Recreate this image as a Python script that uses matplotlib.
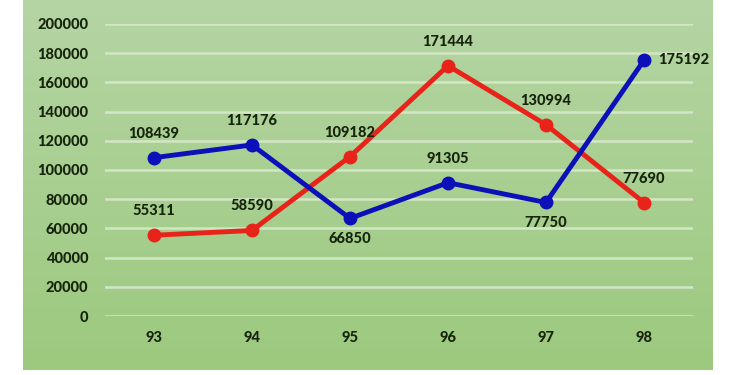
import matplotlib.pyplot as plt
import numpy as np

plt.rcParams['font.family'] = ['Lato', 'DejaVu Sans']

years = ['93', '94', '95', '96', '97', '98']
blue_vals = [108439, 117176, 66850, 91305, 77750, 175192]
red_vals = [55311, 58590, 109182, 171444, 130994, 77690]
# where each label sits relative to its point
blue_pos = ['up', 'up', 'down', 'up', 'down', 'right']
red_pos = ['up', 'up', 'up', 'up', 'up', 'up']

W, H = 745, 375
fig = plt.figure(figsize=(W/100, H/100), dpi=100)
fig.patch.set_facecolor('white')

# green gradient panel
bg = fig.add_axes([23/W, 5/H, 690/W, 370/H])
grad = np.linspace(0, 1, 256).reshape(-1, 1)
top = np.array([181, 213, 164]) / 255
bot = np.array([156, 201, 126]) / 255
img = top + (bot - top) * grad[:, :, None]
bg.imshow(img, aspect='auto', extent=[0, 1, 0, 1])
bg.set_axis_off()

ax = fig.add_axes([105/W, 59/H, 588/W, 292/H])
ax.patch.set_alpha(0)
x = np.arange(len(years))
ax.set_xlim(-0.5, len(years) - 0.5)
ax.set_ylim(0, 200000)
ax.set_yticks(np.arange(0, 200001, 20000))
for yv in np.arange(0, 200001, 20000):
    ax.axhline(yv, color='#d3e6c6', lw=1.8, zorder=1)
for s in ax.spines.values():
    s.set_visible(False)
ax.tick_params(length=0, labelsize=10.5, colors='#16240c')
ax.tick_params(axis='y', pad=12)
ax.tick_params(axis='x', pad=11)
ax.set_xticks(x)
ax.set_xticklabels(years, fontweight='black')
for t in ax.get_yticklabels():
    t.set_fontweight('black')

ax.plot(x, red_vals, color='#e8231a', lw=3.5, marker='o', ms=9,
        zorder=3, clip_on=False)
ax.plot(x, blue_vals, color='#0b10b8', lw=3.5, marker='o', ms=9,
        zorder=4, clip_on=False)

offs = {'up': (0, 24, 'center'), 'down': (0, -21, 'center'),
        'right': (14, 0, 'left')}
for vals, pos in [(blue_vals, blue_pos), (red_vals, red_pos)]:
    for xi, v, p in zip(x, vals, pos):
        dx, dy, ha = offs[p]
        ax.annotate(str(v), (xi, v), xytext=(dx, dy), textcoords='offset pixels',
                    ha=ha, va='center', fontsize=10.5, fontweight='black',
                    color='#16240c', zorder=5)

fig.savefig('out.png', dpi=100)
